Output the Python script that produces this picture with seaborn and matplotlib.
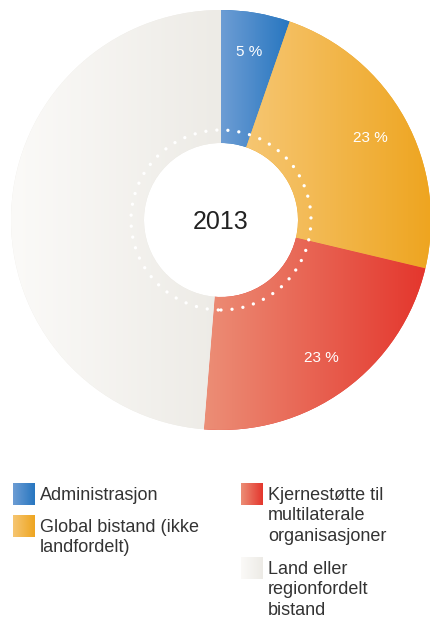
import numpy as np
import matplotlib
matplotlib.use("Agg")
import matplotlib.pyplot as plt
from matplotlib.colors import LinearSegmentedColormap
from matplotlib.patches import Circle
import seaborn as sns

# Bistand 2013 fordelt på kanaler (prosent)
categories = [
    "Administrasjon",
    "Global bistand (ikke\nlandfordelt)",
    "Kjernestøtte til\nmultilaterale\norganisasjoner",
    "Land eller\nregionfordelt\nbistand",
]
shares = [5.3, 23.4, 22.6, 48.7]
year_label = "2013"

# left -> right gradient colours per category
grad_left = ["#6d9dd4", "#f6c672", "#ec8e76", "#fbfaf8"]
grad_right = ["#2776c0", "#eea520", "#e4362d", "#edebe6"]

sns.set_theme(style="white")
plt.rcParams["font.family"] = ["Liberation Sans", "DejaVu Sans"]

W, H = 430, 619
fig = plt.figure(figsize=(W / 100, H / 100), dpi=100)
fig.patch.set_facecolor("white")

# donut axes: centre at (221, 220) px, outer radius 210 px
cx, cy, R = 221, 220, 210
ax = fig.add_axes([(cx - R) / W, (H - cy - R) / H, 2 * R / W, 2 * R / H])
inner = 77 / 210

def gradient_cmap(i):
    return LinearSegmentedColormap.from_list(f"g{i}", [grad_left[i], grad_right[i]])

grad = np.linspace(0, 1, 256).reshape(1, -1)

wedges, texts, autotexts = ax.pie(
    shares,
    startangle=90,
    counterclock=False,
    radius=1,
    colors=[grad_right[i] for i in range(len(shares))],
    autopct=lambda p: f"{p:.0f} %" if p < 40 else "",
    pctdistance=0.81,
    wedgeprops=dict(width=1 - inner, linewidth=0),
    textprops=dict(color="white", fontsize=11),
)

for i, w in enumerate(wedges):
    bb = w.get_path().get_extents()
    im = ax.imshow(
        grad, cmap=gradient_cmap(i), aspect="auto",
        extent=(bb.x0, bb.x1, bb.y0, bb.y1), interpolation="bicubic", zorder=1.5,
    )
    im.set_clip_path(w)

for t in autotexts:
    t.set_zorder(5)

# dotted ring inside the donut
ring = Circle((0, 0), 90 / 210, fill=False, edgecolor="white", linewidth=2.4,
              linestyle=(0, (0.01, 3.3)), zorder=4)
ring.set_capstyle("round")
ax.add_patch(ring)

ax.text(0, -0.01, year_label, ha="center", va="center", fontsize=18, color="#222222",
        zorder=5)
ax.set_xlim(-1, 1)
ax.set_ylim(-1, 1)
ax.set_aspect("equal")
ax.axis("off")

# legend in pixel coordinates
lg = fig.add_axes([0, 0, 1, 1], zorder=-1)
lg.set_xlim(0, W)
lg.set_ylim(H, 0)
lg.axis("off")
sq = 22
legend_pos = [(13, 483), (13, 515), (241, 483), (241, 557)]
for i, (lab, (x, y)) in enumerate(zip(categories, legend_pos)):
    lg.imshow(grad, cmap=gradient_cmap(i), aspect="auto",
              extent=(x, x + sq, y + sq, y), interpolation="bicubic")
    lg.text(x + 27, y + 4, lab, ha="left", va="top", fontsize=13,
            color="#333333", linespacing=1.26)
lg.set_xlim(0, W)
lg.set_ylim(H, 0)

fig.savefig("out.png", dpi=100)
